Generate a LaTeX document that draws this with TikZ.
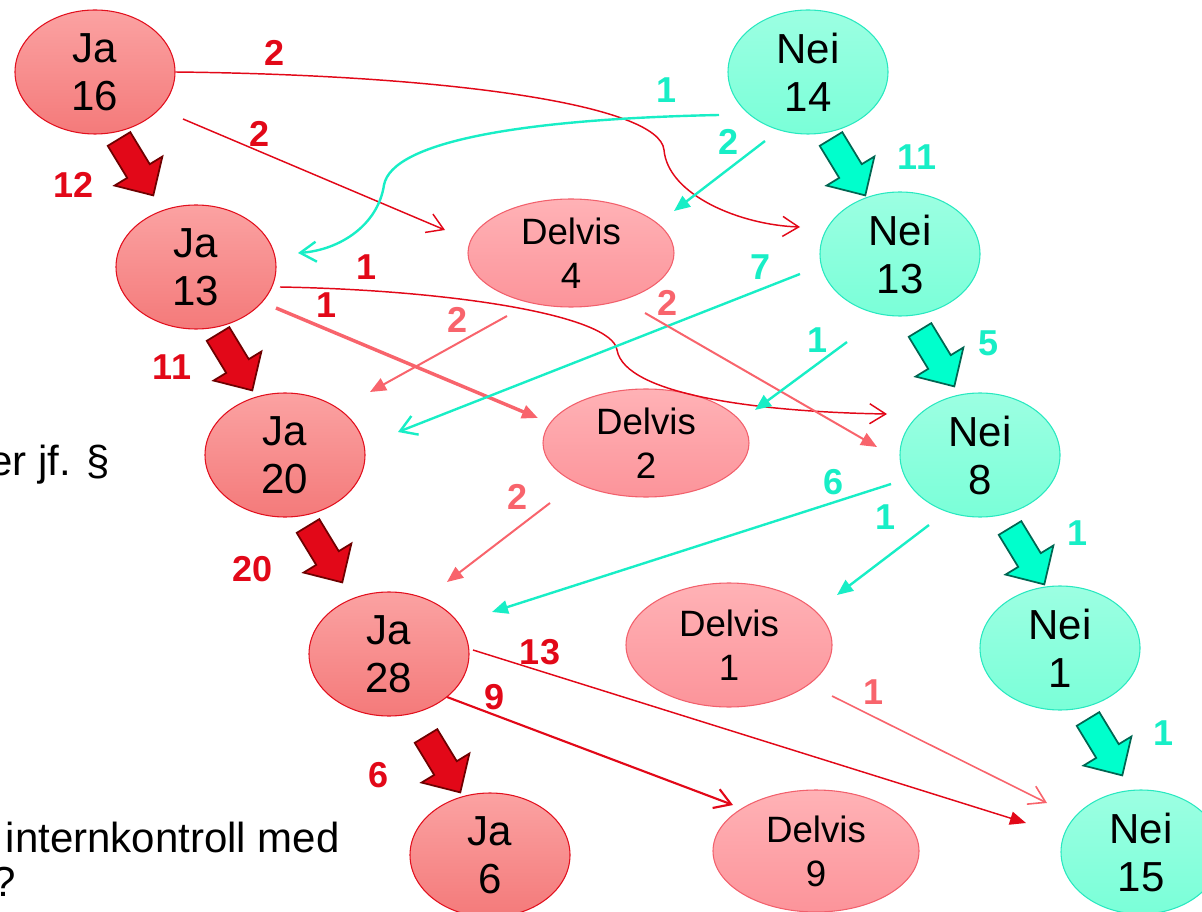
\documentclass[tikz,border=0pt]{standalone}
\usepackage{fontspec}
\setmainfont{Liberation Sans}
\usetikzlibrary{shapes.geometric,arrows.meta}
\definecolor{jred}{RGB}{226,8,24}
\definecolor{lred}{RGB}{248,100,108}
\definecolor{cyn}{RGB}{24,238,198}
\definecolor{jatop}{RGB}{251,162,162}
\definecolor{jabot}{RGB}{244,122,122}
\definecolor{jaborder}{RGB}{226,16,30}
\definecolor{dvtop}{RGB}{255,178,182}
\definecolor{dvbot}{RGB}{252,148,154}
\definecolor{dvborder}{RGB}{242,96,108}
\definecolor{netop}{RGB}{156,255,226}
\definecolor{nebot}{RGB}{122,255,216}
\definecolor{neborder}{RGB}{40,232,192}
\definecolor{redfill}{RGB}{226,8,24}
\definecolor{rededge}{RGB}{110,0,0}
\definecolor{cynfill}{RGB}{0,255,204}
\definecolor{cynedge}{RGB}{0,102,82}
\tikzset{
  blockarrow/.pic={\path[pic actions] (0,13.2) -- (37.5,13.2) -- (37.5,28) -- (66,0) -- (37.5,-28) -- (37.5,-13.2) -- (0,-13.2) -- cycle;},
  redblock/.style={fill=redfill, draw=rededge, line width=1.3pt, line join=miter},
  cynblock/.style={fill=cynfill, draw=cynedge, line width=1.3pt, line join=miter},
  ja/.style={ellipse, draw=jaborder, line width=0.8pt, top color=jatop, bottom color=jabot, minimum width=120pt, minimum height=93pt, inner sep=0pt, align=center, font=\fontsize{31.5}{36}\selectfont},
  nei/.style={ja, draw=neborder, top color=netop, bottom color=nebot},
  delvis/.style={ja, draw=dvborder, top color=dvtop, bottom color=dvbot, minimum width=154.5pt, minimum height=81pt, font=\fontsize{27.5}{33}\selectfont},
  lab/.style={font=\fontsize{27}{30}\selectfont\bfseries, inner sep=0pt},
  labd/.style={lab, text=jred},
  labl/.style={lab, text=lred},
  labc/.style={lab, text=cyn},
  bg/.style={font=\fontsize{31.5}{36}\selectfont, inner sep=0pt},
  openhead/.style={-{Straight Barb[length=12pt,width=15pt]}},
  fillhead/.style={-{Triangle[length=12pt,width=10pt]}},
  dline/.style={draw=jred, line width=1.1pt},
  lline/.style={draw=lred, line width=1.5pt},
  cline/.style={draw=cyn, line width=1.8pt},
}
\begin{document}
\begin{tikzpicture}[x=0.75pt,y=-0.75pt]
\useasboundingbox (0,0) rectangle (1202,912);

% background text
\node[bg, anchor=base east] (t1) at (110,475) {er jf. §};
\node[bg, anchor=base east] (t2) at (340,852) {internkontroll med};
\node[bg, anchor=base east] (t3) at (16,896) {?};

% nodes
\node[ja] (ja16) at (95,72) {Ja\\16};
\node[ja] (ja13) at (196,267) {Ja\\13};
\node[ja] (ja20) at (285,455) {Ja\\20};
\node[ja] (ja28) at (389,654) {Ja\\28};
\node[ja] (ja6) at (490,855) {Ja\\6};
\node[delvis] (delvis4) at (571,253) {Delvis\\4};
\node[delvis] (delvis2) at (646,443) {Delvis\\2};
\node[delvis, minimum height=93pt] (delvis1) at (729,645) {Delvis\\1};
\node[delvis, minimum height=91.5pt] (delvis9) at (816,851) {Delvis\\9};
\node[nei] (nei14) at (808,72) {Nei\\14};
\node[nei] (nei13) at (900,254) {Nei\\13};
\node[nei] (nei8) at (980,455) {Nei\\8};
\node[nei] (nei1) at (1060,648) {Nei\\1};
\node[nei] (nei15) at (1141,852) {Nei\\15};

% block arrows
\pic[redblock, rotate=-58.7] at ([shift={(24,67)}]ja16.center) {blockarrow};
\pic[redblock, rotate=-58.7] at ([shift={(22,67)}]ja13.center) {blockarrow};
\pic[redblock, rotate=-58.7] at ([shift={(23,71)}]ja20.center) {blockarrow};
\pic[redblock, rotate=-58.7] at ([shift={(37,82)}]ja28.center) {blockarrow};
\pic[cynblock, rotate=-58.7] at ([shift={(23,67)}]nei14.center) {blockarrow};
\pic[cynblock, rotate=-58.7] at ([shift={(20,76)}]nei13.center) {blockarrow};
\pic[cynblock, rotate=-58.7] at ([shift={(30,73)}]nei8.center) {blockarrow};
\pic[cynblock, rotate=-58.7] at ([shift={(28,71)}]nei1.center) {blockarrow};

% connectors
\draw[dline, openhead] (ja16.east) .. controls (450,75) and (660,105) .. (664,150)
   .. controls (668,195) and (740,225) .. ([shift={(-100,-27)}]nei13.center);
\draw[dline, openhead] ([shift={(88,47)}]ja16.center) -- ([shift={(-126,-23)}]delvis4.center);
\draw[cline, openhead] ([shift={(-89,43)}]nei14.center) .. controls (520,119) and (392,142) .. (384,185)
   .. controls (378,225) and (340,250) .. ([shift={(102,-14)}]ja13.center);
\draw[cline, fillhead] ([shift={(-43,69)}]nei14.center) -- ([shift={(103,-42)}]delvis4.center);
\draw[dline, openhead] ([shift={(84,20)}]ja13.center) .. controls (450,290) and (612,315) .. (617,350)
   .. controls (625,395) and (760,412) .. ([shift={(-93,-41)}]nei8.center);
\draw[lline, line width=2.6pt, fillhead] ([shift={(80,41)}]ja13.center) -- ([shift={(-108,-25)}]delvis2.center);
\draw[lline, fillhead] ([shift={(-64,63)}]delvis4.center) -- ([shift={(85,-63)}]ja20.center);
\draw[cline, openhead] ([shift={(-100,20)}]nei13.center) -- ([shift={(113,-23)}]ja20.center);
\draw[lline, fillhead] ([shift={(74,60)}]delvis4.center) -- ([shift={(-103,-8)}]nei8.center);
\draw[cline, fillhead] ([shift={(-53,88)}]nei13.center) -- ([shift={(109,-33)}]delvis2.center);
\draw[lline, fillhead] ([shift={(-96,60)}]delvis2.center) -- ([shift={(58,-72)}]ja28.center);
\draw[cline, fillhead] ([shift={(-89,29)}]nei8.center) -- ([shift={(103,-42)}]ja28.center);
\draw[cline, fillhead] ([shift={(-51,70)}]nei8.center) -- ([shift={(108,-50)}]delvis1.center);
\draw[dline, fillhead] ([shift={(84,-4)}]ja28.center) -- ([shift={(-115,-29)}]nei15.center);
\draw[dline, line width=1.6pt, openhead] ([shift={(58,43)}]ja28.center) -- ([shift={(-83,-46)}]delvis9.center);
\draw[lline, line width=1.2pt, openhead] ([shift={(103,51)}]delvis1.center) -- ([shift={(-94,-49)}]nei15.center);

% labels
\node[labd] (l1) at (275,53) {2};
\node[labd] (l2) at (260,134) {2};
\node[labd] (l3) at (74,185) {12};
\node[labd] (l4) at (367,267) {1};
\node[labd] (l5) at (327,305) {1};
\node[labd] (l6) at (172,367) {11};
\node[labd] (l7) at (253,569) {20};
\node[labd] (l8) at (540,652) {13};
\node[labd] (l9) at (495,697) {9};
\node[labd] (l10) at (379,775) {6};
\node[labl] (l11) at (458,320) {2};
\node[labl] (l12) at (668,303) {2};
\node[labl] (l13) at (518,497) {2};
\node[labl] (l14) at (873,692) {1};
\node[labc] (l15) at (667,90) {1};
\node[labc] (l16) at (729,142) {2};
\node[labc] (l17) at (917,157) {11};
\node[labc] (l18) at (760,267) {7};
\node[labc] (l19) at (817,340) {1};
\node[labc] (l20) at (988,343) {5};
\node[labc] (l21) at (833,482) {6};
\node[labc] (l22) at (885,517) {1};
\node[labc] (l23) at (1077,533) {1};
\node[labc] (l24) at (1163,733) {1};
\end{tikzpicture}
\end{document}
